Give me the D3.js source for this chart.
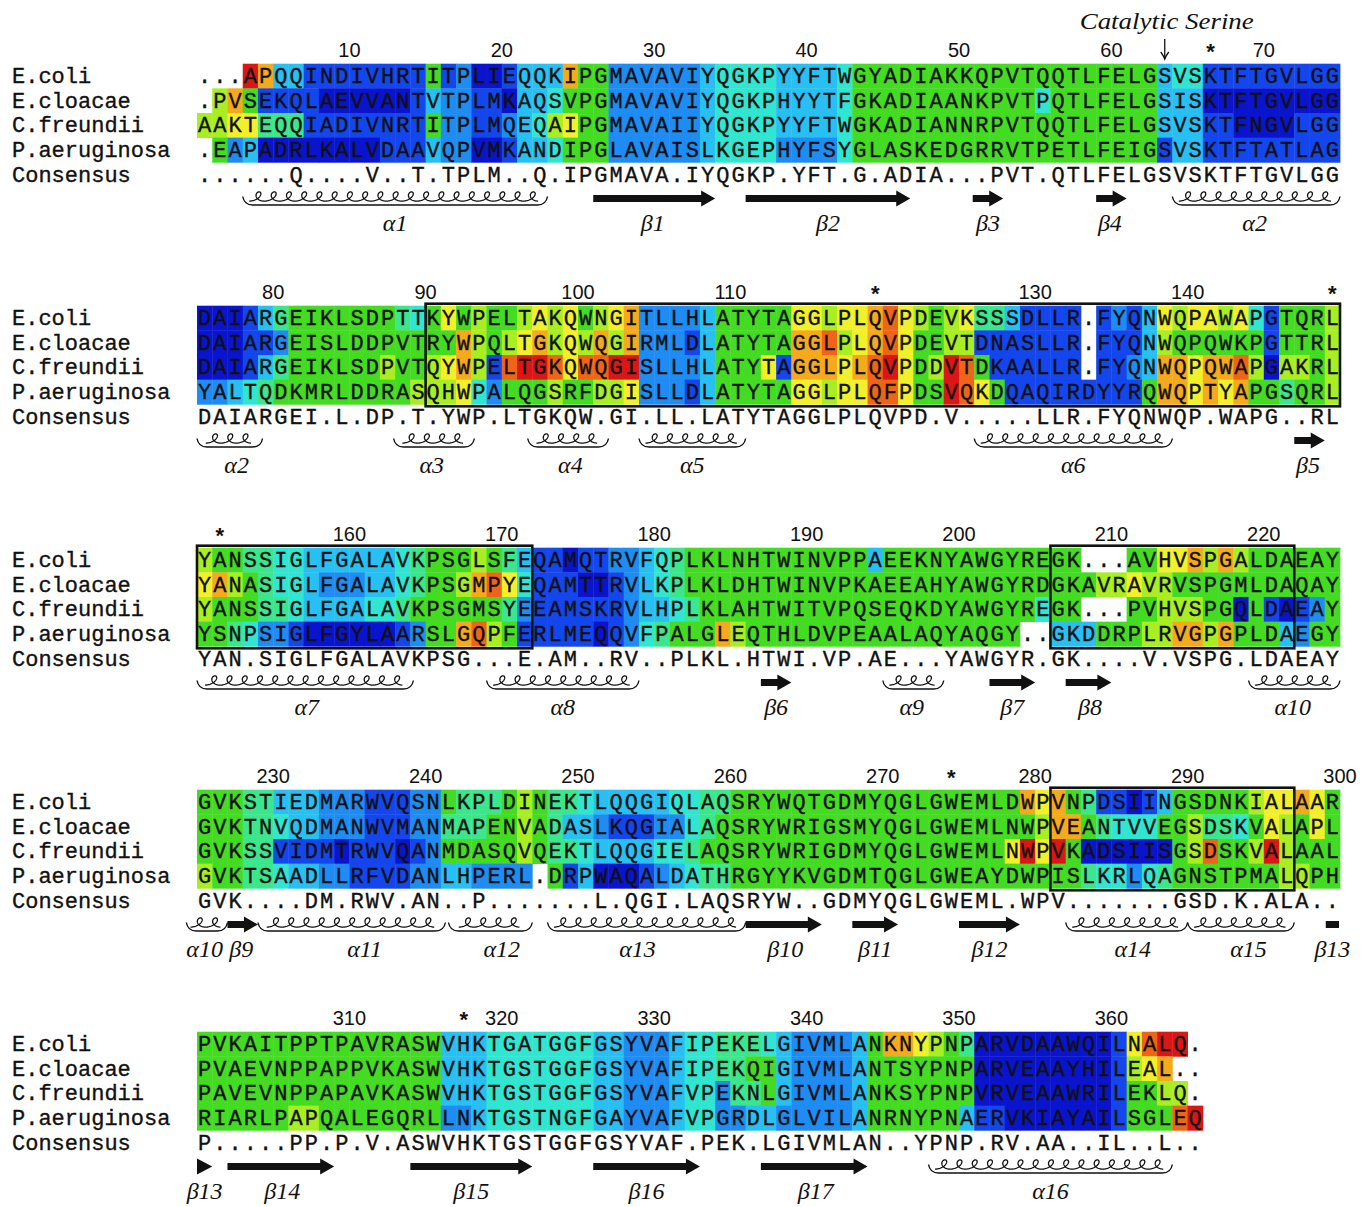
<!DOCTYPE html>
<html><head><meta charset="utf-8">
<script src="https://cdn.jsdelivr.net/npm/d3@7"></script>
<style>body{margin:0;background:#fff}</style>
</head><body>
<svg id="c" width="1369" height="1207"></svg>
<script>
// ---------------- DATA ----------------
const speciesNames = ["E.coli", "E.cloacae", "C.freundii", "P.aeruginosa"];
const consensusName = "Consensus";

// aligned sequences, one string per block of 75 columns
const ecoliSeq = [
  "...APQQINDIVHRTITPLIEQQKIPGMAVAVIYQGKPYYFTWGYADIAKKQPVTQQTLFELGSVSKTFTGVLGG",
  "DAIARGEIKLSDPTTKYWPELTAKQWNGITLLHLATYTAGGLPLQVPDEVKSSSDLLR.FYQNWQPAWAPGTQRL",
  "YANSSIGLFGALAVKPSGLSFEQAMQTRVFQPLKLNHTWINVPPAEEKNYAWGYREGK...AVHVSPGALDAEAY",
  "GVKSTIEDMARWVQSNLKPLDINEKTLQQGIQLAQSRYWQTGDMYQGLGWEMLDWPVNPDSIINGSDNKIALAAR",
  "PVKAITPPTPAVRASWVHKTGATGGFGSYVAFIPEKELGIVMLANKNYPNPARVDAAWQILNALQ."
];
const ecloacaeSeq = [
  ".PVSEKQLAEVVANTVTPLMKAQSVPGMAVAVIYQGKPHYYTFGKADIAANKPVTPQTLFELGSISKTFTGVLGG",
  "DAIARGEISLDDPVTRYWPQLTGKQWQGIRMLDLATYTAGGLPLQVPDEVTDNASLLR.FYQNWQPQWKPGTTRL",
  "YANASIGLFGALAVKPSGMPYEQAMTTRVLKPLKLDHTWINVPKAEEAHYAWGYRDGKAVRAVRVSPGMLDAQAY",
  "GVKTNVQDMANWVMANMAPENVADASLKQGIALAQSRYWRIGSMYQGLGWEMLNWPVEANTVVEGSDSKVALAPL",
  "PVAEVNPPAPPVKASWVHKTGSTGGFGSYVAFIPEKQIGIVMLANTSYPNPARVEAAYHILEAL.."
];
const cfreundiiSeq = [
  "AAKTEQQIADIVNRTITPLMQEQAIPGMAVAIIYQGKPYYFTWGKADIANNRPVTQQTLFELGSVSKTFNGVLGG",
  "DAIARGEIKLSDPVTQYWPELTGKQWQGISLLHLATYTAGGLPLQVPDDVTDKAALLR.FYQNWQPQWAPGAKRL",
  "YANSSIGLFGALAVKPSGMSYEEAMSKRVLHPLKLAHTWITVPQSEQKDYAWGYREGK...PVHVSPGQLDAEAY",
  "GVKSSVIDMTRWVQANMDASQVQEKTLQQGIELAQSRYWRIGDMYQGLGWEMLNWPVKADSIISGSDSKVALAAL",
  "PAVEVNPPAPAVKASWVHKTGSTGGFGSYVAFVPEKNLGIVMLANKSYPNPVRVEAAWRILEKLQ."
];
const paeruginosaSeq = [
  ".EAPADRLKALVDAAVQPVMKANDIPGLAVAISLKGEPHYFSYGLASKEDGRRVTPETLFEIGSVSKTFTATLAG",
  "YALTQDKMRLDDRASQHWPALQGSRFDGISLLDLATYTAGGLPLQFPDSVQKDQAQIRDYYRQWQPTYAPGSQRL",
  "YSNPSIGLFGYLAARSLGQPFERLMEQQVFPALGLEQTHLDVPEAALAQYAQGY..GKDDRPLRVGPGPLDAEGY",
  "GVKTSAADLLRFVDANLHPERL.DRPWAQALDATHRGYYKVGDMTQGLGWEAYDWPISLKRLQAGNSTPMALQPH",
  "RIARLPAPQALEGQRLLNKTGSTNGFGAYVAFVPGRDLGLVILANRNYPNAERVKIAYAILSGLEQ"
];
const consensusSeq = [
  "......Q....V..T.TPLM..Q.IPGMAVA.IYQGKP.YFT.G.ADIA...PVT.QTLFELGSVSKTFTGVLGG",
  "DAIARGEI.L.DP.T.YWP.LTGKQW.GI.LL.LATYTAGGLPLQVPD.V.....LLR.FYQNWQP.WAPG..RL",
  "YAN.SIGLFGALAVKPSG...E.AM..RV..PLKL.HTWI.VP.AE...YAWGYR.GK....V.VSPG.LDAEAY",
  "GVK....DM.RWV.AN..P.......L.QGI.LAQSRYW..GDMYQGLGWEML.WPV.......GSD.K.ALA..",
  "P.....PP.P.V.ASWVHKTGSTGGFGSYVAF.PEK.LGIVMLAN..YPNP.RV.AA..IL..L.."
];

// colour class of each residue cell (0 = dark blue ... b = red, '-' = no fill), groups of 10 columns
const ecoliCol = [
  "---b933111 1111161200 1333966222 2223444433 3346666666 6666666666 6663441111 11111",
  "0001356666 6665468676 6787867892 2223666668 87889a8767 85531111-1 2138788784 16667",
  "7665544333 3334566676 5311011223 4566666666 6666366666 66666666-- -668897976 66666",
  "6665533322 2111226555 6765543333 3445566666 6666666666 6666989651 1013666667 88986",
  "6666666666 6666663334 4444443322 2344555432 2223699876 5000000000 18abb-"
];
const ecloacaeCol = [
  "-796111100 0000132211 0334666222 2223444433 3346666666 6666646666 6663330000 00000",
  "0001126666 6666666976 7897879792 2213666669 9a789a8667 71111111-1 1137666666 16667",
  "8976544322 233456679a 8411100123 4566666666 6666666666 6666666667 7877666666 66666",
  "6665543322 2111225556 6765332111 2245666666 6666666666 6666679965 4446675546 87686",
  "6666666666 6666663334 4444443322 2344556632 2223666666 6000000000 1789--"
];
const cfreundiiCol = [
  "7788555111 1111162211 2347866222 2223444433 3346666666 6666666666 6663331100 00111",
  "0001356666 6676678971 abba8aabb2 2223666819 9989ab867b a6111111-1 12399899a7 07767",
  "7666554333 3445666666 5211111123 3456666666 6666666666 66666466-- -667776606 10126",
  "6665511110 1110126666 6765543333 4456666666 6666666666 6668b8b600 000067a667 b7666",
  "6666666666 6666663334 4444443322 2344255632 2223666666 6000000000 16677-"
];
const paeruginosaCol = [
  "-623000000 0011132200 1334666222 2223444422 2246666666 6666666666 6661331111 11111",
  "2234566666 6666777842 6667667782 2213666668 8788aa866b a861111111 1169989896 65667",
  "6654221000 00012669a7 6111110124 5666976666 6666666666 6666--3336 6677997966 63266",
  "7665543322 1111223322 22-6130001 2345566666 6666666666 6666666654 4245666666 67766",
  "6666667766 6666662234 4444443322 2344223322 2223666666 3110000000 1666ab"
];

const colorCodes = ["0", "1", "2", "3", "4", "5", "6", "7", "8", "9", "a", "b"];
const colorPalette = ["#0a14cc", "#1446ee", "#1e8cf2", "#28c0f2", "#30e6d0", "#3ce68c",
                      "#44dc22", "#a8ee22", "#f2f02a", "#f5aa1e", "#f06418", "#dc1616"];

// numbering (alignment positions), stars, catalytic serine position
const numberLabels = [10, 20, 30, 40, 50, 60, 70, 80, 90, 100, 110, 130, 140,
                      160, 170, 180, 190, 200, 210, 220, 230, 240, 250, 260, 270, 280, 290, 300,
                      310, 320, 330, 340, 350, 360];
const starPositions = [67, 120, 150, 152, 275, 318];
const catalyticPosition = 64;
const catalyticLabel = "Catalytic Serine";

// boxed regions: block, first column, last column (exclusive)
const boxBlock = [1, 2, 2, 3];
const boxFrom = [15, 0, 56, 56];
const boxTo = [75, 22, 72, 72];

// secondary structure elements
const ssBlock = [0,0,0,0,0,0, 1,1,1,1,1,1, 2,2,2,2,2,2,2, 3,3,3,3,3,3,3,3,3,3,3, 4,4,4,4,4,4];
const ssType = ["helix","strand","strand","strand","strand","helix",
  "helix","helix","helix","helix","helix","strand",
  "helix","helix","strand","helix","strand","strand","helix",
  "helix","strand","helix","helix","helix","strand","strand","strand","helix","helix","bar",
  "head","strand","strand","strand","strand","helix"];
const ssFrom = [3, 26, 36, 50.9, 59, 64,
  0, 12.9, 21.7, 29, 51, 72,
  0, 19, 37, 45, 52, 57, 69,
  -0.7, 2, 4, 16.5, 23, 36, 43, 50, 57, 65, 74,
  0, 2, 14, 26, 37, 48];
const ssTo = [23, 34, 46.8, 52.9, 61, 75,
  4.3, 18.2, 27, 36, 64, 74,
  14.2, 29, 39, 49, 55, 60, 75,
  2, 4, 16.3, 22, 36, 41, 46, 54, 65, 72, 75,
  1, 9, 22, 33, 44, 64];
const ssLabel = ["α1","β1","β2","β3","β4","α2",
  "α2","α3","α4","α5","α6","β5",
  "α7","α8","β6","α9","β7","β8","α10",
  "α10","β9","α11","α12","α13","β10","β11","β12","α14","α15","β13",
  "β13","β14","β15","β16","β17","α16"];
const ssLabelAt = [13.0, 29.9, 41.4, 51.9, 59.9, 69.4,
  2.6, 15.4, 24.5, 32.5, 57.5, 72.9,
  7.2, 24.0, 38.0, 46.9, 53.5, 58.6, 71.9,
  0.5, 2.9, 11.0, 20.0, 28.9, 38.6, 44.5, 52.0, 61.4, 69.0, 74.5,
  0.5, 5.6, 18.0, 29.5, 40.6, 56.0];

// ---------------- LAYOUT ----------------
const NCOL = 75, LEFT = 197, CELL = 15.24, ROWH = 24.65, BLOCKH = 242;
const svg = d3.select("#c");
const xl = d3.scaleLinear().domain([0, NCOL]).range([LEFT, LEFT + NCOL * CELL]);
const xb = d3.scaleBand().domain(d3.range(NCOL)).range([LEFT, LEFT + NCOL * CELL]);
const yBlock = d3.scaleLinear().domain([0, 1]).range([0, BLOCKH]);
const yRow = d3.scaleBand().domain(d3.range(5)).range([63.7, 63.7 + 5 * ROWH]);
const color = d3.scaleOrdinal().domain(colorCodes).range(colorPalette);

const MONO = "'Liberation Mono', 'DejaVu Sans Mono', monospace";
const SERIF = "'Liberation Serif', 'DejaVu Serif', serif";
const SANS = "'Liberation Sans', Arial, sans-serif";
const INK = "#111";

const allSeqs = [ecoliSeq, ecloacaeSeq, cfreundiiSeq, paeruginosaSeq, consensusSeq];
const allCols = [ecoliCol, ecloacaeCol, cfreundiiCol, paeruginosaCol, null];
const allNames = speciesNames.concat([consensusName]);

for (let b = 0; b < 5; b++) {
  const g = svg.append("g").attr("transform", `translate(0,${yBlock(b)})`);
  for (let r = 0; r < 4; r++) {
    const seq = allSeqs[r][b].split("");
    const codes = allCols[r][b].replace(/ /g, "").split("");
    if (codes.length !== seq.length) console.warn("len mismatch", b, r, codes.length, seq.length);
    const cells = seq.map((ch, i) => ({ ch, code: codes[i] || "-", i }));
    g.selectAll(null).data(cells.filter(d => d.code !== "-")).join("rect")
      .attr("x", d => xb(d.i)).attr("y", yRow(r))
      .attr("width", xb.bandwidth() + 0.4).attr("height", yRow.bandwidth() + 0.4)
      .attr("fill", d => color(d.code));
  }
  for (let r = 0; r < 5; r++) {
    const seq = allSeqs[r][b].split("").map((ch, i) => ({ ch, i }));
    g.selectAll(null).data(seq).join("text")
      .attr("x", d => xb(d.i) + xb.bandwidth() / 2)
      .attr("y", yRow(r) + yRow.bandwidth() / 2 + 7)
      .attr("text-anchor", "middle")
      .attr("font-family", MONO).attr("font-size", 22).attr("fill", INK)
      .attr("stroke", INK).attr("stroke-width", 0.35)
      .text(d => d.ch);
    g.append("text").attr("x", 12).attr("y", yRow(r) + yRow.bandwidth() / 2 + 7)
      .attr("font-family", MONO).attr("font-size", 22).attr("fill", INK)
      .attr("stroke", INK).attr("stroke-width", 0.35)
      .text(allNames[r]);
  }
}

// boxes
boxBlock.forEach((b, k) => {
  svg.append("rect")
    .attr("x", xl(boxFrom[k])).attr("y", yBlock(b) + yRow(0) - 2)
    .attr("width", xl(boxTo[k]) - xl(boxFrom[k]))
    .attr("height", yRow(3) + yRow.bandwidth() - yRow(0) + 4)
    .attr("fill", "none").attr("stroke", INK).attr("stroke-width", 2.6);
});

// numbering
const NUMY = 56.5;
numberLabels.forEach(p => {
  const b = Math.floor((p - 1) / NCOL), c = (p - 1) % NCOL;
  svg.append("text").attr("x", xl(c + 1)).attr("y", yBlock(b) + NUMY)
    .attr("text-anchor", "middle").attr("font-family", SANS).attr("font-size", 20)
    .attr("fill", INK).text(p);
});
starPositions.forEach(p => {
  const b = Math.floor((p - 1) / NCOL), c = (p - 1) % NCOL;
  svg.append("text").attr("x", xb(c) + xb.bandwidth() / 2).attr("y", yBlock(b) + NUMY + 2)
    .attr("text-anchor", "middle").attr("font-family", SANS).attr("font-size", 22)
    .attr("font-weight", "bold").attr("fill", INK).text("*");
});
{
  const b = Math.floor((catalyticPosition - 1) / NCOL), c = (catalyticPosition - 1) % NCOL;
  const cx = xb(c) + xb.bandwidth() / 2;
  const top = yBlock(b) + 39, bot = yBlock(b) + 59;
  svg.append("line").attr("x1", cx).attr("x2", cx).attr("y1", top).attr("y2", bot)
    .attr("stroke", INK).attr("stroke-width", 1.3);
  svg.append("path")
    .attr("d", `M${cx - 4},${bot - 7} Q${cx - 1},${bot - 3} ${cx},${bot} Q${cx + 1},${bot - 3} ${cx + 4},${bot - 7}`)
    .attr("fill", "none").attr("stroke", INK).attr("stroke-width", 1.3);
  svg.append("text").attr("x", cx + 2).attr("y", yBlock(b) + 29)
    .attr("text-anchor", "middle").attr("font-family", SERIF).attr("font-style", "italic")
    .attr("font-size", 24).attr("textLength", 174).attr("lengthAdjust", "spacingAndGlyphs")
    .attr("fill", INK).text(catalyticLabel);
}

// secondary structure
const SSY = 198.5, LABY = 231;
ssBlock.forEach((b, k) => {
  const y = yBlock(b) + SSY;
  const x0 = xl(ssFrom[k]), x1 = xl(ssTo[k]);
  const type = ssType[k];
  if (type === "strand") {
    const head = Math.min(14, (x1 - x0) * 0.5);
    const p = d3.path();
    p.moveTo(x0, y - 3.5); p.lineTo(x1 - head, y - 3.5); p.lineTo(x1 - head, y - 8);
    p.lineTo(x1, y); p.lineTo(x1 - head, y + 8); p.lineTo(x1 - head, y + 3.5);
    p.lineTo(x0, y + 3.5); p.closePath();
    svg.append("path").attr("d", p.toString()).attr("fill", INK);
  } else if (type === "bar") {
    svg.append("rect").attr("x", x0 + 1).attr("y", y - 3.5).attr("width", x1 - x0 - 2)
      .attr("height", 7).attr("fill", INK);
  } else if (type === "head") {
    const p = d3.path();
    p.moveTo(x0, y - 8); p.lineTo(x1, y); p.lineTo(x0, y + 8); p.closePath();
    svg.append("path").attr("d", p.toString()).attr("fill", INK);
  } else {
    const a = d3.path();
    a.moveTo(x0, y - 2);
    a.quadraticCurveTo(x0 + 1.5, y + 6.5, x0 + 10, y + 6.5);
    a.lineTo(x1 - 10, y + 6.5);
    a.quadraticCurveTo(x1 - 1.5, y + 6.5, x1, y - 2);
    svg.append("path").attr("d", a.toString()).attr("fill", "none")
      .attr("stroke", INK).attr("stroke-width", 1.4);
    const n = Math.max(1, Math.round((x1 - x0) / CELL) - 1);
    const span = n * CELL;
    const xs = (x0 + x1) / 2 - span / 2;
    const R = CELL / (2 * Math.PI);
    const yc = y - 2;
    const pts = d3.range(0, n * 2 * Math.PI + 0.001, 0.1).map(t => {
      const yy = yc + 4.6 * Math.cos(t);
      return [xs + R * t + 5.6 * Math.sin(t) + 0.25 * (yc - yy), yy];
    });
    svg.append("path").attr("d", d3.line()(pts)).attr("fill", "none")
      .attr("stroke", INK).attr("stroke-width", 1.3);
  }
  svg.append("text").attr("x", xl(ssLabelAt[k])).attr("y", yBlock(b) + LABY)
    .attr("text-anchor", "middle").attr("font-family", SERIF).attr("font-style", "italic")
    .attr("font-size", 24).attr("fill", INK).text(ssLabel[k]);
});
</script>
</body></html>
